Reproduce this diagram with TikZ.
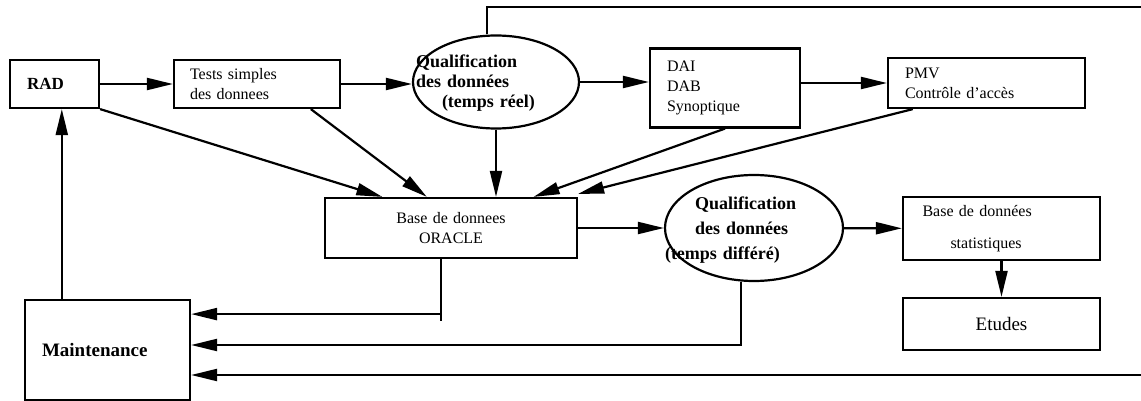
\documentclass[tikz,border=0pt]{standalone}
\usepackage{fontspec}
\setmainfont{Liberation Serif}
\usepackage{tikz}
\usetikzlibrary{calc, arrows.meta, shapes.geometric}
\tikzset{every node/.append style={font=\fontsize{8}{10}\selectfont}}

\begin{document}
\begin{tikzpicture}[>={Triangle[length=13pt,width=6pt]}, x=0.5pt, y=-0.5pt, line width=1.1pt,
    box/.style={draw, line width=1.1pt, inner sep=0pt, align=left},
    oval/.style={draw, ellipse, line width=1.1pt, inner sep=0pt},
    qtxt/.style={font=\fontsize{9}{10}\selectfont\bfseries, align=left, inner sep=0pt}]
    \useasboundingbox (0,0) rectangle (1141,401);
    % top row
    \node[box, minimum width=44.5pt, minimum height=24pt, text width=27.5pt, font=\fontsize{8.5}{10}\selectfont\bfseries] (rad) at (54.5,84) {RAD};
    \node[box, minimum width=83pt, minimum height=24pt, text width=67pt] (tests) at (257,84) {Tests simples\\des donnees};
    \node[oval, minimum width=83pt, minimum height=46.5pt] (q1) at (496,82) {};
    \node[qtxt, text width=80pt] (q1txt) at (496,83) {Qualification\\des données\\\hspace*{13pt}(temps réel)};
    \node[box, minimum width=75pt, minimum height=39.5pt, text width=58pt] (dai) at (725,88) {DAI\\DAB\\Synoptique};
    \node[box, minimum width=98.5pt, minimum height=25pt, text width=81.5pt] (pmv) at (986.5,83) {PMV\\Contrôle d'accès};
    % middle row
    \node[box, minimum width=126pt, minimum height=30pt, text width=110pt, align=center] (oracle) at (451,228) {Base de donnees\\ORACLE};
    \node[oval, minimum width=89pt, minimum height=53pt] (q2) at (754,228) {};
    \node[qtxt, text width=89pt, font=\fontsize{9}{12.5}\selectfont\bfseries] (q2txt) at (754,230) {\hspace*{15pt}Qualification\\\hspace*{15pt}des données\\(temps différé)};
    \node[box, minimum width=98.5pt, minimum height=31.5pt, text width=79pt, font=\fontsize{8}{16}\selectfont] (stat) at (1001.5,228.5) {Base de données\\\hspace*{14pt}statistiques};
    % bottom row
    \node[box, minimum width=98.5pt, minimum height=26pt, text width=90pt, align=center, font=\fontsize{9.5}{11}\selectfont] (etudes) at (1001.5,324) {Etudes};
    \node[box, minimum width=82.5pt, minimum height=50pt, text width=65.5pt, font=\fontsize{9.5}{11}\selectfont\bfseries] (maint) at (107.5,350) {Maintenance};
    % arrows along the top row
    \draw[->] (rad) -- (tests);
    \draw[->] (tests.east) -- (tests.east -| q1.west);
    \draw[->] (q1.east) -- (q1.east -| dai.west);
    \draw[->] (dai.east |- pmv) -- (pmv.west);
    % arrows into the database
    \draw[->] (rad.south east) -- ($(oracle.north west)!0.23!(oracle.north east)$);
    \draw[->] ($(tests.south west)!0.82!(tests.south east)$) -- ($(oracle.north west)!0.405!(oracle.north east)$);
    \draw[->] (q1.south) -- (q1.south |- oracle.north);
    \draw[->] (dai.south) -- ($(oracle.north west)!0.825!(oracle.north east)$);
    \draw[->] ($(pmv.south west)!0.13!(pmv.south east)$) -- ([yshift=1.5pt]oracle.north east);
    % deferred chain
    \draw[->] (oracle) -- (q2);
    \draw[->] (q2) -- (stat);
    \draw[->] (stat) -- (etudes);
    % maintenance
    \coordinate (r1) at ($(rad.south west)!0.58!(rad.south east)$);
    \draw[->] (r1 |- maint.north) -- (r1);
    \coordinate (o1) at ($(oracle.south west)!0.46!(oracle.south east)$);
    \coordinate (o2) at ($(o1)+(0,55)$);
    \draw (o1) -- ++(0,62);
    \draw[->] (o2) -- (o2 -| maint.east);
    \coordinate (q2b) at ($(q2.south)+(-13,0)$);
    \coordinate (m2) at ($(maint.east)+(0,-5)$);
    \draw[->] (q2b) |- (m2);
    \coordinate (eb) at (1141,375);
    \draw[->] (eb) -- (eb -| maint.east);
    \coordinate (q1t) at ($(q1.north)+(-9,0)$);
    \coordinate (et) at (1141,7);
    \draw (q1t) |- (et);
\end{tikzpicture}
\end{document}
